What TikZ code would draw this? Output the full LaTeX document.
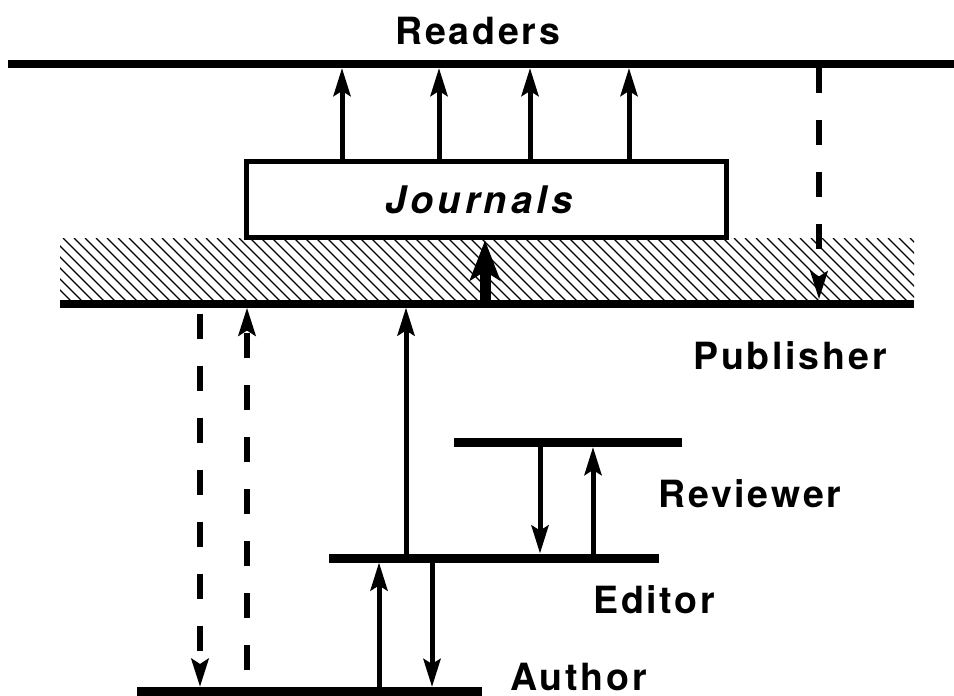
\documentclass[tikz,border=0pt]{standalone}
\usepackage{fontspec}
\setmainfont{TeX Gyre Heros}
\newfontfamily\lblfont{TeX Gyre Heros}[LetterSpace=7.5]
\newfontfamily\jrnfont{TeX Gyre Heros}[LetterSpace=11]
\usetikzlibrary{arrows.meta}

\tikzset{
  bar/.style={fill=black, inner sep=0pt, outer sep=0pt, minimum height=9pt},
  lbl/.style={anchor=base west, inner sep=0pt,
    font={\lblfont\bfseries\fontsize{37.5pt}{40pt}\selectfont}},
  flow/.style={line width=5pt, -{Stealth[length=28pt,width=17pt,inset=5pt]}},
  dflow/.style={flow, line width=6pt, dash pattern=on 25pt off 27pt},
  bigflow/.style={line width=11pt, -{Stealth[length=40pt,width=30pt,inset=9pt]}},
  hatch/.style={line width=1.2pt}
}

\begin{document}
\begin{tikzpicture}[x=1pt,y=-1pt]
\useasboundingbox (0,0) rectangle (954,696);

% hatched band under the publisher level
\begin{scope}
  \clip (60,238) rectangle (914,300);
  \foreach \x in {-14,-3,...,920}
    \draw[hatch] (\x,238) -- ++(64,64);
\end{scope}

% levels
\node[bar, minimum width=946pt, minimum height=8pt] (readers) at (481,64) {};
\node[bar, minimum width=854pt, minimum height=8pt] (publisher) at (487,303.5) {};
\node[bar, minimum width=228pt] (reviewer) at (568,442.5) {};
\node[bar, minimum width=330pt] (editor) at (494,558) {};
\node[bar, minimum width=345pt] (author) at (309.5,691.5) {};

% journals box
\node[draw, line width=5.5pt, fill=white, inner sep=0pt,
      minimum width=480pt, minimum height=76pt] (jbox) at (486.5,199.5) {};
\node[anchor=base west, inner sep=0pt,
      font={\jrnfont\bfseries\itshape\fontsize{38pt}{40pt}\selectfont}]
      (jtxt) at (385,213) {Journals};

% labels
\node[lbl] (lreaders) at (395,45) {Readers};
\node[lbl] (lpublisher) at (693,369) {Publisher};
\node[lbl] (lreviewer) at (658,507) {Reviewer};
\node[lbl] (leditor) at (593,613) {Editor};
\node[lbl] (lauthor) at (510,690) {Author};

% arrow columns
\coordinate (j1) at (342,0);
\coordinate (j2) at (439,0);
\coordinate (j3) at (530,0);
\coordinate (j4) at (629,0);
\coordinate (rd) at (819,0);
\coordinate (pj) at (485,0);
\coordinate (pa) at (200,0);
\coordinate (ap) at (247,0);
\coordinate (ep) at (406,0);
\coordinate (re) at (540,0);
\coordinate (er) at (593,0);
\coordinate (ae) at (379,0);
\coordinate (ea) at (432,0);

% journals reach the readers
\foreach \c in {j1,j2,j3,j4}
  \draw[flow] (jbox.north -| \c) -- (readers.south -| \c);

% readers feed back to the publisher
\draw[dflow] (readers.south -| rd) -- (publisher.north -| rd);

% publisher produces the journals
\draw[bigflow] (publisher.north -| pj) -- (jbox.south -| pj);

% publisher and author, direct exchange
\draw[dflow, dash phase=46pt] (publisher.south -| pa) -- (author.north -| pa);
\draw[dflow, dash phase=35pt] (author.north -| ap) -- (publisher.south -| ap);

% editor forwards to publisher
\draw[flow] (editor.north -| ep) -- (publisher.south -| ep);

% review loop
\draw[flow] (reviewer.south -| re) -- (editor.north -| re);
\draw[flow] (editor.north -| er) -- (reviewer.south -| er);

% submission loop
\draw[flow] (author.north -| ae) -- (editor.south -| ae);
\draw[flow] (editor.south -| ea) -- (author.north -| ea);
\end{tikzpicture}
\end{document}
